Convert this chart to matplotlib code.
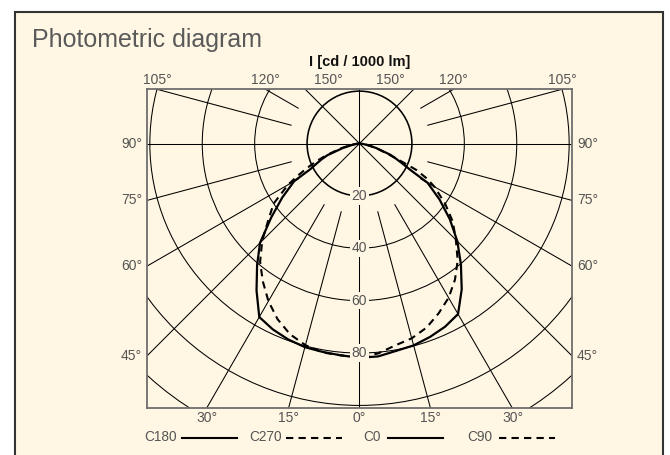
import numpy as np
import matplotlib.pyplot as plt
from matplotlib.patches import Rectangle, Circle

plt.rcParams['font.family'] = ['Liberation Sans', 'DejaVu Sans']

gamma = [0, 5, 10, 15, 20, 25, 30, 35, 40, 45, 50, 55, 60, 62.5, 65, 67.5, 70, 75, 80, 85, 90]
c180 = [81.8, 81.2, 80.8, 80.5, 79.6, 78.3, 76.5, 68.5, 60.8, 53.7, 44.0, 36.0, 28.8, 21.0, 18.0, 15.5, 13.0, 6.5, 2.5, 0.8, 0]
c0 = [81.8, 81.6, 80.4, 79.8, 78.6, 77.2, 75.2, 68.0, 60.2, 52.8, 45.0, 37.3, 30.0, 22.0, 18.0, 15.0, 12.5, 6.5, 2.5, 0.8, 0]
c270 = [81.4, 81.2, 81.0, 79.7, 77.5, 74.0, 69.5, 64.3, 59.0, 52.5, 45.4, 40.0, 31.5, 26.5, 22.0, 18.0, 14.0, 8.0, 3.5, 1.0, 0]
c90 = [81.4, 80.5, 78.3, 77.0, 74.8, 71.5, 68.0, 63.5, 58.3, 52.0, 46.5, 39.8, 33.0, 29.0, 24.0, 16.0, 11.0, 6.5, 3.0, 1.0, 0]

anillos = [20, 40, 60, 80, 100, 120]
etiquetas_anillo = [20, 40, 60, 80]
radios_largos = [0, 45, 90, 135]
radios_cortos = [15, 30, 60, 75, 105, 120]
ang_lados = [45, 60, 75, 90]
ang_abajo = [0, 15, 30]
ang_arriba = [105, 120, 150]

crema = '#fff7e3'
gris = '#555555'
xmax, ytop, ybot = 81.2, 20.7, -101.1

fig = plt.figure(figsize=(6.7, 4.55), dpi=100)

# fondo / panel en pixeles
bg = fig.add_axes([0, 0, 1, 1])
bg.set_xlim(0, 670)
bg.set_ylim(455, 0)
bg.axis('off')
bg.add_patch(Rectangle((15, 12), 648, 470, facecolor=crema, edgecolor='#333333', lw=1.5))
bg.text(32, 40, "Photometric diagram", fontsize=18, color='#5a5a5a', va='center', ha='left')
bg.text(359.5, 62, "I [cd / 1000 lm]", fontsize=10.5, fontweight='bold', color='#111111', ha='center', va='center')

# leyenda
leyenda = [("C180", 177, 182, 237, '-'), ("C270", 282, 286, 342, '--'),
           ("C0", 381, 388, 443, '-'), ("C90", 492, 499, 555, '--')]
for nombre, xt, x1, x2, ls in leyenda:
    bg.text(xt, 437, nombre, fontsize=9.8, color=gris, ha='right', va='center')
    if ls == '-':
        bg.plot([x1, x2], [438, 438], color='black', lw=1.5)
    else:
        bg.plot([x1, x2], [438, 438], color='black', lw=1.5, linestyle=(0, (3.5, 2.5)))

# diagrama polar
ax = fig.add_axes([146.7 / 670, (455 - 408.3) / 455, 425.6 / 670, 319 / 455])
ax.set_facecolor('none')
ax.set_xlim(-xmax, xmax)
ax.set_ylim(ybot, ytop)
ax.set_xticks([])
ax.set_yticks([])
for s in ax.spines.values():
    s.set_color('#6e6e6e')
    s.set_linewidth(1.3)

for r in anillos:
    lw = 1.15 if r == 20 else 0.75
    ax.add_patch(Circle((0, 0), r, fill=False, edgecolor='black', lw=lw))

# radios completos (pasan por el centro)
for g in radios_largos:
    t = np.radians(g)
    ax.plot([-200 * np.sin(t), 200 * np.sin(t)],
            [200 * np.cos(t), -200 * np.cos(t)], color='black', lw=0.75)

# radios cortos
for g in radios_cortos:
    t = np.radians(g)
    for sgn in (1, -1):
        ax.plot([sgn * 27 * np.sin(t), sgn * 200 * np.sin(t)],
                [-27 * np.cos(t), -200 * np.cos(t)], color='black', lw=0.75)

# curvas
def xy(ang, izq, der):
    a = np.radians(np.array(ang))
    xi = -np.array(izq) * np.sin(a)
    yi = -np.array(izq) * np.cos(a)
    xd = np.array(der) * np.sin(a)
    yd = -np.array(der) * np.cos(a)
    return np.concatenate([xi[::-1], xd[1:]]), np.concatenate([yi[::-1], yd[1:]])

x, y = xy(gamma, c270, c90)
ax.plot(x, y, color='black', lw=1.5, linestyle=(0, (3.5, 2.5)))
x, y = xy(gamma, c180, c0)
ax.plot(x, y, color='black', lw=1.6)

for r in etiquetas_anillo:
    ax.text(0, -r, str(r), fontsize=10, color=gris, ha='center', va='center',
            bbox=dict(boxstyle='square,pad=0.12', facecolor=crema, edgecolor='none'))

# etiquetas de angulos
for g in ang_lados:
    yy = -xmax / np.tan(np.radians(g)) if g != 90 else 0
    ax.text(-xmax - 1.8, yy, f"{g}°", fontsize=10, color=gris, ha='right', va='center', clip_on=False)
    ax.text(xmax + 1.8, yy, f"{g}°", fontsize=10, color=gris, ha='left', va='center', clip_on=False)
for g in ang_abajo:
    xx = -ybot * np.tan(np.radians(g))
    for sgn in ((1,) if g == 0 else (1, -1)):
        ax.text(sgn * xx, ybot - 3.6, f"{g}°", fontsize=10, color=gris, ha='center', va='center', clip_on=False)
for g in ang_arriba:
    t = np.radians(g)
    xx = ytop * np.sin(t) / -np.cos(t)
    for sgn in (1, -1):
        ax.text(sgn * xx, ytop + 3.6, f"{g}°", fontsize=10, color=gris, ha='center', va='center', clip_on=False)

plt.savefig("out.png", dpi=100)
